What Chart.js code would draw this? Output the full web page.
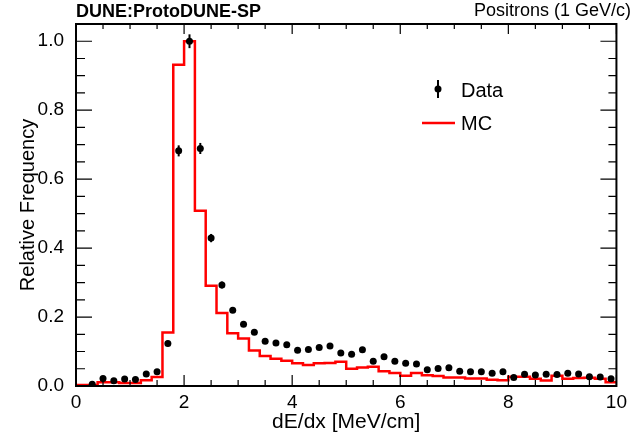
<!DOCTYPE html>
<html>
<head>
<meta charset="utf-8">
<script src="https://cdn.jsdelivr.net/npm/chart.js@4.4.1/dist/chart.umd.min.js"></script>
<style>
  html, body { margin: 0; padding: 0; background: #fff; }
  #wrap { width: 632px; height: 439px; }
</style>
</head>
<body>
<div id="wrap"><canvas id="c" width="632" height="439"></canvas></div>
<script>
// ---- Data ----
// Bin lower edges (bin width 0.2 MeV/cm)
const binLow = [0.0,0.2,0.4,0.6,0.8,1.0,1.2,1.4,1.6,1.8,
                2.0,2.2,2.4,2.6,2.8,3.0,3.2,3.4,3.6,3.8,
                4.0,4.2,4.4,4.6,4.8,5.0,5.2,5.4,5.6,5.8,
                6.0,6.2,6.4,6.6,6.8,7.0,7.2,7.4,7.6,7.8,
                8.0,8.2,8.4,8.6,8.8,9.0,9.2,9.4,9.6,9.8];
const binHighEdge = 10.0;
// Bin centres (data points)
const binCenter = [0.1,0.3,0.5,0.7,0.9,1.1,1.3,1.5,1.7,1.9,
                   2.1,2.3,2.5,2.7,2.9,3.1,3.3,3.5,3.7,3.9,
                   4.1,4.3,4.5,4.7,4.9,5.1,5.3,5.5,5.7,5.9,
                   6.1,6.3,6.5,6.7,6.9,7.1,7.3,7.5,7.7,7.9,
                   8.1,8.3,8.5,8.7,8.9,9.1,9.3,9.5,9.7,9.9];
// MC histogram contents
const mcValues = [0.003,0.003,0.011,0.011,0.009,0.009,0.017,0.026,0.155,0.932,
                  1.000,0.508,0.291,0.212,0.153,0.138,0.103,0.087,0.079,0.073,
                  0.066,0.061,0.066,0.067,0.070,0.050,0.054,0.056,0.043,0.038,
                  0.030,0.038,0.031,0.029,0.025,0.025,0.022,0.022,0.018,0.017,
                  0.027,0.027,0.021,0.016,0.030,0.021,0.023,0.024,0.021,0.011];
// Data points
const dataValues = [null,0.005,0.022,0.015,0.020,0.019,0.035,0.041,0.123,0.682,
                    1.000,0.689,0.429,0.293,0.220,0.179,0.156,0.130,0.125,0.120,
                    0.104,0.106,0.112,0.116,0.096,0.092,0.105,0.072,0.085,0.072,
                    0.066,0.064,0.047,0.051,0.053,0.043,0.041,0.041,0.037,0.041,
                    0.025,0.034,0.032,0.034,0.033,0.037,0.035,0.027,0.026,0.021];
// Data statistical errors
const dataErrors = [0,0.003,0.004,0.003,0.004,0.004,0.005,0.005,0.008,0.016,
                    0.020,0.016,0.012,0.010,0.008,0.007,0.007,0.006,0.006,0.006,
                    0.005,0.005,0.005,0.005,0.005,0.005,0.005,0.004,0.005,0.004,
                    0.004,0.004,0.004,0.004,0.004,0.003,0.003,0.003,0.003,0.003,
                    0.003,0.003,0.003,0.003,0.003,0.003,0.003,0.003,0.003,0.003];
// Axis ticks
const xTickValues = [0, 2, 4, 6, 8, 10];
const xTickLabels = ['0', '2', '4', '6', '8', '10'];
const yTickValues = [0, 0.2, 0.4, 0.6, 0.8, 1.0];
const yTickLabels = ['0.0', '0.2', '0.4', '0.6', '0.8', '1.0'];
const xRange = [0, 10];
const yRange = [0, 1.05];

// ---- Build datasets ----
const mcPoints = binLow.map((x, i) => ({ x: x, y: mcValues[i] }));
mcPoints.push({ x: binHighEdge, y: mcValues[mcValues.length - 1] });
const dataPoints = binCenter.map((x, i) => ({ x: x, y: dataValues[i] }));

const FONT = "'Liberation Sans', Arial, Helvetica, sans-serif";

// Error bars, frame, inward ticks, header texts and legend
const rootStyle = {
  id: 'rootStyle',
  afterDatasetsDraw(chart) {
    const ctx = chart.ctx;
    const xs = chart.scales.x, ys = chart.scales.y;
    const a = chart.chartArea;
    ctx.save();
    // error bars
    ctx.strokeStyle = '#000';
    ctx.lineWidth = 2;
    dataValues.forEach((v, i) => {
      if (v === null) return;
      const px = xs.getPixelForValue(binCenter[i]);
      const y1 = ys.getPixelForValue(v - dataErrors[i]);
      const y2 = ys.getPixelForValue(v + dataErrors[i]);
      ctx.beginPath();
      ctx.moveTo(px, y1);
      ctx.lineTo(px, y2);
      ctx.stroke();
    });
    // inward ticks
    ctx.lineWidth = 1.2;
    ctx.beginPath();
    for (let k = 0; k <= 20; k++) {
      const v = xRange[0] + k * 0.5;
      const major = (k % 4 === 0);
      const px = xs.getPixelForValue(v);
      ctx.moveTo(px, a.bottom);
      ctx.lineTo(px, a.bottom - (major ? 11 : 6));
      ctx.moveTo(px, a.top);
      ctx.lineTo(px, a.top + (major ? 10 : 5));
    }
    for (let k = 0; k <= 21; k++) {
      const v = yRange[0] + k * 0.05;
      if (v > yRange[1] + 1e-9) break;
      const major = (k % 4 === 0);
      const py = ys.getPixelForValue(v);
      ctx.moveTo(a.left, py);
      ctx.lineTo(a.left + (major ? 16 : 9), py);
      ctx.moveTo(a.right, py);
      ctx.lineTo(a.right - (major ? 16 : 8), py);
    }
    ctx.stroke();
    // frame
    ctx.lineWidth = 2;
    ctx.strokeRect(a.left, a.top, a.right - a.left, a.bottom - a.top);

    // header texts
    ctx.fillStyle = '#000';
    ctx.textBaseline = 'alphabetic';
    ctx.font = 'bold 18px ' + FONT;
    ctx.textAlign = 'left';
    ctx.fillText('DUNE:ProtoDUNE-SP', a.left, 17);
    ctx.font = '18px ' + FONT;
    ctx.textAlign = 'right';
    ctx.fillText('Positrons (1 GeV/c)', 631, 16);

    // legend
    const ds = chart.data.datasets;
    ctx.textAlign = 'left';
    ctx.font = '20px ' + FONT;
    // Data entry
    ctx.lineWidth = 2;
    ctx.beginPath();
    ctx.moveTo(438, 80);
    ctx.lineTo(438, 98);
    ctx.stroke();
    ctx.beginPath();
    ctx.arc(438, 89, 3.5, 0, Math.PI * 2);
    ctx.fill();
    ctx.fillText(ds[0].label, 461, 97);
    // MC entry
    ctx.strokeStyle = '#ff0000';
    ctx.lineWidth = 2.5;
    ctx.beginPath();
    ctx.moveTo(422, 123);
    ctx.lineTo(455, 123);
    ctx.stroke();
    ctx.fillText(ds[1].label, 461, 130);
    ctx.restore();
  }
};

new Chart(document.getElementById('c'), {
  type: 'line',
  data: {
    datasets: [
      {
        label: 'Data',
        data: dataPoints,
        showLine: false,
        pointRadius: 3.5,
        pointHoverRadius: 3.5,
        pointBackgroundColor: '#000',
        pointBorderColor: '#000',
        pointBorderWidth: 0,
        order: 0
      },
      {
        label: 'MC',
        data: mcPoints,
        stepped: 'before',
        borderColor: '#ff0000',
        borderWidth: 2.5,
        pointRadius: 0,
        fill: false,
        order: 1
      }
    ]
  },
  options: {
    responsive: false,
    animation: false,
    events: [],
    layout: { padding: { top: 24, right: 11, left: 0, bottom: 0 } },
    plugins: { legend: { display: false }, tooltip: { enabled: false }, title: { display: false } },
    scales: {
      x: {
        type: 'linear',
        min: xRange[0],
        max: xRange[1],
        afterFit(s) { s.height = 53; },
        afterBuildTicks(s) { s.ticks = xTickValues.map(v => ({ value: v })); },
        grid: { display: false, drawTicks: false },
        border: { display: false },
        ticks: {
          padding: 5,
          color: '#000',
          autoSkip: false,
          maxRotation: 0,
          font: { family: FONT, size: 19 },
          callback: (v, i) => xTickLabels[i]
        },
        title: {
          display: true,
          text: 'dE/dx [MeV/cm]',
          color: '#000',
          font: { family: FONT, size: 21 },
          padding: { top: 0, bottom: 4 }
        }
      },
      y: {
        type: 'linear',
        min: yRange[0],
        max: yRange[1],
        afterFit(s) { s.width = 76; },
        afterBuildTicks(s) { s.ticks = yTickValues.map(v => ({ value: v })); },
        grid: { display: false, drawTicks: false },
        border: { display: false },
        ticks: {
          padding: 12,
          color: '#000',
          autoSkip: false,
          font: { family: FONT, size: 19 },
          callback: (v, i) => yTickLabels[i]
        },
        title: {
          display: true,
          text: 'Relative Frequency',
          color: '#000',
          font: { family: FONT, size: 20 },
          padding: { top: 16, bottom: 0 }
        }
      }
    }
  },
  plugins: [rootStyle]
});
</script>
</body>
</html>
